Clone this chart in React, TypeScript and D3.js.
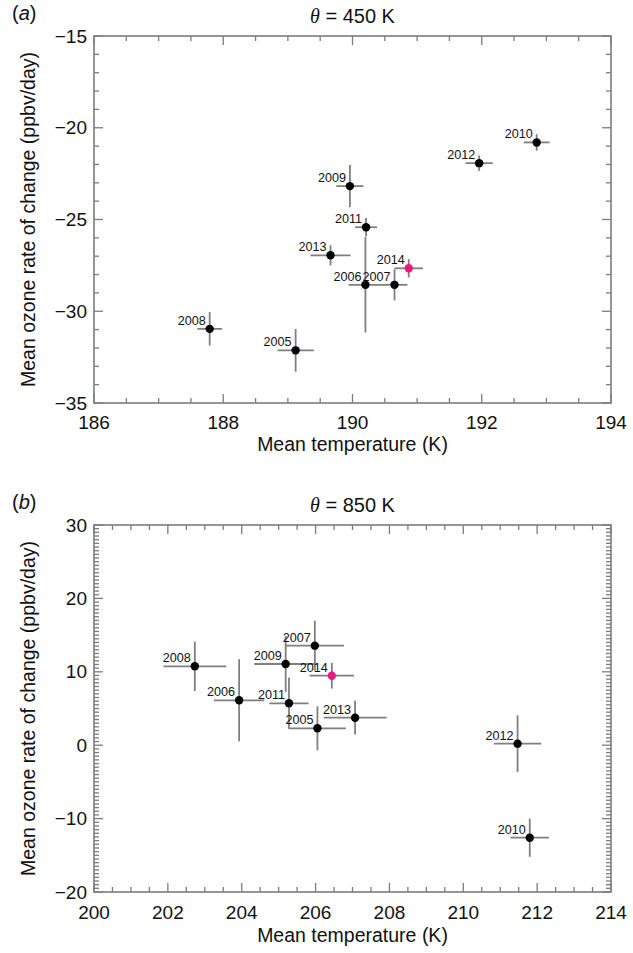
import React from "react";
import * as d3 from "d3";

// ---------- data ----------
const years = [2005, 2006, 2007, 2008, 2009, 2010, 2011, 2012, 2013, 2014];
const highlightYear = 2014;

// panel (a): theta = 450 K
const tempA = [189.12, 190.2, 190.65, 187.79, 189.96, 192.85, 190.21, 191.96, 189.66, 190.87];
const tempErrA = [0.28, 0.26, 0.2, 0.19, 0.21, 0.2, 0.17, 0.21, 0.31, 0.22];
const ozoneA = [-32.13, -28.56, -28.56, -30.96, -23.18, -20.8, -25.42, -21.93, -26.95, -27.66];
const ozoneErrA = [1.16, 2.6, 0.85, 0.91, 1.15, 0.45, 0.5, 0.42, 0.55, 0.5];

// panel (b): theta = 850 K
const tempB = [206.05, 203.93, 205.98, 202.73, 205.19, 211.8, 205.28, 211.47, 207.07, 206.44];
const tempErrB = [0.77, 0.68, 0.79, 0.85, 0.85, 0.52, 0.53, 0.64, 0.85, 0.6];
const ozoneB = [2.3, 6.12, 13.56, 10.75, 11.06, -12.6, 5.71, 0.21, 3.75, 9.47];
const ozoneErrB = [3.0, 5.6, 3.4, 3.36, 3.8, 2.6, 3.5, 3.86, 2.3, 1.75];

const xTicksA = [186, 188, 190, 192, 194];
const yTicksA = [-35, -30, -25, -20, -15];
const xTicksB = [200, 202, 204, 206, 208, 210, 212, 214];
const yTicksB = [-20, -10, 0, 10, 20, 30];

const xLabel = "Mean temperature (K)";
const yLabel = "Mean ozone rate of change (ppbv/day)";

// ---------- styles ----------
const FONT = "'Liberation Sans', Arial, Helvetica, sans-serif";
const AXIS = "#7c7c7c";
const BAR = "#7f7f7f";
const PINK = "#ea1a7f";

type PanelProps = {
  letter: string;
  theta: string;
  top: number;
  bottom: number;
  xDomain: [number, number];
  yDomain: [number, number];
  xTicks: number[];
  yTicks: number[];
  xMinor: number;
  yMinor: number;
  temp: number[];
  tempErr: number[];
  ozone: number[];
  ozoneErr: number[];
  tickLabelDy: number;
  xTitleDy: number;
};

const fmt = (v: number) => (v < 0 ? "\u2212" + Math.abs(v) : String(v));

function Panel(p: PanelProps) {
  const left = 94;
  const right = 611;
  const x = d3.scaleLinear().domain(p.xDomain).range([left, right]);
  const y = d3.scaleLinear().domain(p.yDomain).range([p.bottom, p.top]);
  const xMinorTicks = d3.range(p.xDomain[0], p.xDomain[1] + 1e-9, p.xMinor);
  const yMinorTicks = d3.range(p.yDomain[0], p.yDomain[1] + 1e-9, p.yMinor);
  const isMajor = (v: number, arr: number[]) => arr.some((t) => Math.abs(t - v) < 1e-6);
  const minorLen = 5;
  const majorLen = 9;
  const cx = (left + right) / 2;
  const cy = (p.top + p.bottom) / 2;

  return (
    <g>
      <text x={12} y={p.top - 16} fontFamily={FONT} fontSize={20} fill="#111">
        (<tspan fontStyle="italic">{p.letter}</tspan>)
      </text>
      <text x={cx} y={p.top - 13} textAnchor="middle" fontFamily={FONT} fontSize={20} fill="#111">
        <tspan fontFamily="'Liberation Serif', 'Times New Roman', serif" fontStyle="italic">θ</tspan>
        {" = " + p.theta}
      </text>

      {/* ticks */}
      {xMinorTicks.map((v, i) => {
        const L = isMajor(v, p.xTicks) ? majorLen : minorLen;
        const xx = x(v);
        return (
          <g key={"xt" + i} stroke={AXIS} strokeWidth={1.3}>
            <line x1={xx} x2={xx} y1={p.bottom} y2={p.bottom - L} />
            <line x1={xx} x2={xx} y1={p.top} y2={p.top + L} />
          </g>
        );
      })}
      {yMinorTicks.map((v, i) => {
        const L = isMajor(v, p.yTicks) ? majorLen : minorLen;
        const yy = y(v);
        return (
          <g key={"yt" + i} stroke={AXIS} strokeWidth={1.3}>
            <line x1={left} x2={left + L} y1={yy} y2={yy} />
            <line x1={right} x2={right - L} y1={yy} y2={yy} />
          </g>
        );
      })}
      <rect x={left} y={p.top} width={right - left} height={p.bottom - p.top} fill="none" stroke={AXIS} strokeWidth={1.6} />

      {/* tick labels */}
      {p.xTicks.map((v) => (
        <text key={"xl" + v} x={x(v)} y={p.bottom + p.tickLabelDy} textAnchor="middle" fontFamily={FONT} fontSize={19} fill="#111">
          {fmt(v)}
        </text>
      ))}
      {p.yTicks.map((v) => (
        <text key={"yl" + v} x={left - 7} y={y(v)} dy="0.35em" textAnchor="end" fontFamily={FONT} fontSize={19} fill="#111">
          {fmt(v)}
        </text>
      ))}

      {/* axis titles */}
      <text x={cx} y={p.bottom + p.xTitleDy} textAnchor="middle" fontFamily={FONT} fontSize={19.5} fill="#111">
        {xLabel}
      </text>
      <text
        transform={`translate(28,${cy}) rotate(-90)`}
        textAnchor="middle"
        dy="0.35em"
        fontFamily={FONT}
        fontSize={19.5}
        fill="#111"
      >
        {yLabel}
      </text>

      {/* error bars */}
      {years.map((yr, i) => (
        <g key={"eb" + yr} stroke={BAR} strokeWidth={1.8}>
          <line x1={x(p.temp[i] - p.tempErr[i])} x2={x(p.temp[i] + p.tempErr[i])} y1={y(p.ozone[i])} y2={y(p.ozone[i])} />
          <line x1={x(p.temp[i])} x2={x(p.temp[i])} y1={y(p.ozone[i] - p.ozoneErr[i])} y2={y(p.ozone[i] + p.ozoneErr[i])} />
        </g>
      ))}
      {/* points */}
      {years.map((yr, i) => (
        <circle key={"pt" + yr} cx={x(p.temp[i])} cy={y(p.ozone[i])} r={4.2} fill={yr === highlightYear ? PINK : "#000"} />
      ))}
      {/* year labels */}
      {years.map((yr, i) => (
        <text
          key={"lb" + yr}
          x={x(p.temp[i]) - 4}
          y={y(p.ozone[i]) - 4}
          textAnchor="end"
          fontFamily={FONT}
          fontSize={12.6}
          fill="#111"
        >
          {yr}
        </text>
      ))}
    </g>
  );
}

export default function App() {
  return (
    <div style={{ position: "absolute", left: 0, top: 0 }}>
      <svg width={633} height={953} viewBox="0 0 633 953" style={{ display: "block", background: "#fff" }}>
        <Panel
          letter="a"
          theta="450 K"
          top={36}
          bottom={403}
          xDomain={[186, 194]}
          yDomain={[-35, -15]}
          xTicks={xTicksA}
          yTicks={yTicksA}
          xMinor={0.5}
          yMinor={1}
          temp={tempA}
          tempErr={tempErrA}
          ozone={ozoneA}
          ozoneErr={ozoneErrA}
          tickLabelDy={26}
          xTitleDy={48}
        />
        <Panel
          letter="b"
          theta="850 K"
          top={525}
          bottom={892}
          xDomain={[200, 214]}
          yDomain={[-20, 30]}
          xTicks={xTicksB}
          yTicks={yTicksB}
          xMinor={0.5}
          yMinor={0.5}
          temp={tempB}
          tempErr={tempErrB}
          ozone={ozoneB}
          ozoneErr={ozoneErrB}
          tickLabelDy={27}
          xTitleDy={50}
        />
      </svg>
    </div>
  );
}
